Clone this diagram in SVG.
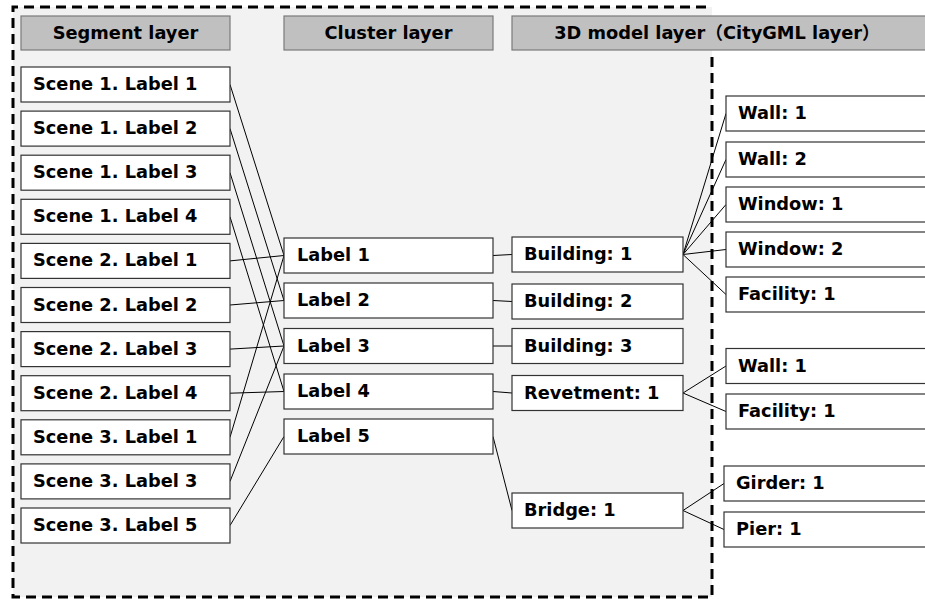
<svg xmlns="http://www.w3.org/2000/svg" width="925" height="599" viewBox="0 0 925 599">
<style>
text{font-family:"DejaVu Sans","Noto Sans CJK JP",sans-serif;font-weight:bold;font-size:17.8px;fill:#000}
.hdr rect{fill:#c0c0c0;stroke:#7a7a7a;stroke-width:1.2}
.hdr text{text-anchor:middle}
.n rect{fill:#fff;stroke:#333;stroke-width:1.2}
#connectors line{stroke:#000;stroke-width:1}
</style>
<rect x="0" y="0" width="925" height="599" fill="#fff"/>
<rect x="13" y="7" width="699" height="590" fill="#f2f2f2"/>
<path d="M712,57 V597 H13 V7 H712" fill="none" stroke="#000" stroke-width="3" stroke-dasharray="10 6"/>
<g class="hdr" id="h-seg"><rect x="21" y="16" width="209" height="34"/><text x="125.5" y="39">Segment layer</text></g>
<g class="hdr" id="h-clu"><rect x="284" y="16" width="209" height="34"/><text x="388.5" y="39">Cluster layer</text></g>
<g class="hdr" id="h-3d"><rect x="512" y="16" width="430" height="34"/><text x="717" y="39">3D model layer（CityGML layer）</text></g>
<g id="connectors">
<line x1="230" y1="84.5" x2="284" y2="255.5"/>
<line x1="230" y1="128.6" x2="284" y2="300.5"/>
<line x1="230" y1="172.7" x2="284" y2="346"/>
<line x1="230" y1="216.8" x2="284" y2="391.5"/>
<line x1="230" y1="260.9" x2="284" y2="255.5"/>
<line x1="230" y1="305" x2="284" y2="300.5"/>
<line x1="230" y1="349.1" x2="284" y2="346"/>
<line x1="230" y1="393.2" x2="284" y2="391.5"/>
<line x1="230" y1="437.3" x2="284" y2="255.5"/>
<line x1="230" y1="481.4" x2="284" y2="346"/>
<line x1="230" y1="525.5" x2="284" y2="436.5"/>
<line x1="493" y1="255.5" x2="512" y2="254.5"/>
<line x1="493" y1="300.5" x2="512" y2="301.5"/>
<line x1="493" y1="346" x2="512" y2="346"/>
<line x1="493" y1="391.5" x2="512" y2="393"/>
<line x1="493" y1="436.5" x2="512" y2="510.5"/>
<line x1="683" y1="254.5" x2="726" y2="113.5"/>
<line x1="683" y1="254.5" x2="726" y2="159.5"/>
<line x1="683" y1="254.5" x2="726" y2="204.5"/>
<line x1="683" y1="254.5" x2="726" y2="249.5"/>
<line x1="683" y1="254.5" x2="726" y2="294.5"/>
<line x1="683" y1="393" x2="726" y2="366"/>
<line x1="683" y1="393" x2="726" y2="411.5"/>
<line x1="683" y1="510.5" x2="724" y2="483.5"/>
<line x1="683" y1="510.5" x2="724" y2="529.5"/>
</g>
<g class="n" id="s1l1"><rect x="21" y="67" width="209" height="35"/><text x="33" y="90">Scene 1. Label 1</text></g>
<g class="n" id="s1l2"><rect x="21" y="111.1" width="209" height="35"/><text x="33" y="134.1">Scene 1. Label 2</text></g>
<g class="n" id="s1l3"><rect x="21" y="155.2" width="209" height="35"/><text x="33" y="178.2">Scene 1. Label 3</text></g>
<g class="n" id="s1l4"><rect x="21" y="199.3" width="209" height="35"/><text x="33" y="222.3">Scene 1. Label 4</text></g>
<g class="n" id="s2l1"><rect x="21" y="243.4" width="209" height="35"/><text x="33" y="266.4">Scene 2. Label 1</text></g>
<g class="n" id="s2l2"><rect x="21" y="287.5" width="209" height="35"/><text x="33" y="310.5">Scene 2. Label 2</text></g>
<g class="n" id="s2l3"><rect x="21" y="331.6" width="209" height="35"/><text x="33" y="354.6">Scene 2. Label 3</text></g>
<g class="n" id="s2l4"><rect x="21" y="375.7" width="209" height="35"/><text x="33" y="398.7">Scene 2. Label 4</text></g>
<g class="n" id="s3l1"><rect x="21" y="419.8" width="209" height="35"/><text x="33" y="442.8">Scene 3. Label 1</text></g>
<g class="n" id="s3l3"><rect x="21" y="463.9" width="209" height="35"/><text x="33" y="486.9">Scene 3. Label 3</text></g>
<g class="n" id="s3l5"><rect x="21" y="508" width="209" height="35"/><text x="33" y="531">Scene 3. Label 5</text></g>
<g class="n" id="c1"><rect x="284" y="238" width="209" height="35"/><text x="297" y="261">Label 1</text></g>
<g class="n" id="c2"><rect x="284" y="283" width="209" height="35"/><text x="297" y="306">Label 2</text></g>
<g class="n" id="c3"><rect x="284" y="328.5" width="209" height="35"/><text x="297" y="351.5">Label 3</text></g>
<g class="n" id="c4"><rect x="284" y="374" width="209" height="35"/><text x="297" y="397">Label 4</text></g>
<g class="n" id="c5"><rect x="284" y="419" width="209" height="35"/><text x="297" y="442">Label 5</text></g>
<g class="n" id="b1"><rect x="512" y="237" width="171" height="35"/><text x="524" y="260">Building: 1</text></g>
<g class="n" id="b2"><rect x="512" y="284" width="171" height="35"/><text x="524" y="307">Building: 2</text></g>
<g class="n" id="b3"><rect x="512" y="328.5" width="171" height="35"/><text x="524" y="351.5">Building: 3</text></g>
<g class="n" id="rv1"><rect x="512" y="375.5" width="171" height="35"/><text x="524" y="398.5">Revetment: 1</text></g>
<g class="n" id="br1"><rect x="512" y="493" width="171" height="35"/><text x="524" y="516">Bridge: 1</text></g>
<g class="n" id="w1"><rect x="726" y="96" width="220" height="35"/><text x="738" y="119">Wall: 1</text></g>
<g class="n" id="w2"><rect x="726" y="142" width="220" height="35"/><text x="738" y="165">Wall: 2</text></g>
<g class="n" id="wn1"><rect x="726" y="187" width="220" height="35"/><text x="738" y="210">Window: 1</text></g>
<g class="n" id="wn2"><rect x="726" y="232" width="220" height="35"/><text x="738" y="255">Window: 2</text></g>
<g class="n" id="f1"><rect x="726" y="277" width="220" height="35"/><text x="738" y="300">Facility: 1</text></g>
<g class="n" id="rw1"><rect x="726" y="348.5" width="220" height="35"/><text x="738" y="371.5">Wall: 1</text></g>
<g class="n" id="rf1"><rect x="726" y="394" width="220" height="35"/><text x="738" y="417">Facility: 1</text></g>
<g class="n" id="g1"><rect x="724" y="466" width="220" height="35"/><text x="736" y="489">Girder: 1</text></g>
<g class="n" id="p1"><rect x="724" y="512" width="220" height="35"/><text x="736" y="535">Pier: 1</text></g>
</svg>
